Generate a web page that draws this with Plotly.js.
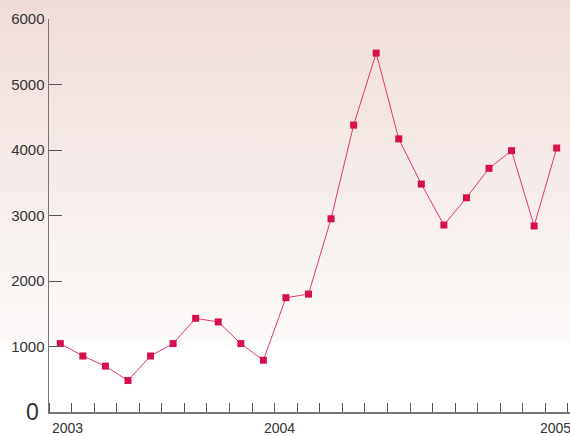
<!DOCTYPE html>
<html>
<head>
<meta charset="utf-8">
<script src="https://cdn.plot.ly/plotly-3.0.1.min.js"></script>
<style>
html,body{margin:0;padding:0;overflow:hidden;}
body{width:570px;height:436px;background:linear-gradient(to bottom,#efdcd9 0px,#f5ebe8 170px,#f9f4f2 260px,#fcfaf9 341px,#ffffff 343px,#ffffff 436px);}
#chart{width:570px;height:436px;}
</style>
</head>
<body>
<div id="chart"></div>
<script>
// Monthly values, Jan 2003 .. Nov 2004
const months = [0,1,2,3,4,5,6,7,8,9,10,11,12,13,14,15,16,17,18,19,20,21,22];
const values = [1045,855,700,480,855,1045,1430,1375,1045,790,1745,1800,2950,4380,5480,4170,3480,2855,3270,3720,3990,2840,4030];
const yearLabels = ['2003','2004','2005'];
const yearLabelPos = [0.34,9.7,22.0];
const yTicks = [1000,2000,3000,4000,5000,6000];

const trace = {
  x: months, y: values, type: 'scatter', mode: 'lines+markers',
  line: {color: '#e23a68', width: 1},
  marker: {symbol: 'square', size: 7, color: '#d7104a'},
  hoverinfo: 'none'
};

const fontFam = 'Liberation Sans, Arial, sans-serif';
const annotations = yearLabels.map((t, i) => ({
  xref: 'x', yref: 'paper', x: yearLabelPos[i], y: -0.040,
  xanchor: i === 2 ? 'right' : 'center', xshift: i === 2 ? 16 : 0,
  yanchor: 'middle', text: t, showarrow: false,
  font: {size: 14, color: '#333', family: fontFam}
}));
annotations.push({
  xref: 'paper', yref: 'y', x: 0, y: 0, xanchor: 'right', yanchor: 'middle',
  xshift: -8, text: '0', showarrow: false,
  font: {size: 23, color: '#333', family: fontFam}
});

const layout = {
  width: 570, height: 436,
  margin: {l: 49, r: 0, t: 19, b: 24},
  paper_bgcolor: 'rgba(0,0,0,0)',
  plot_bgcolor: 'rgba(0,0,0,0)',
  showlegend: false,
  font: {family: fontFam, color: '#333'},
  xaxis: {
    range: [-0.5, 22.59],
    showgrid: false, zeroline: false,
    showline: true, linecolor: '#7a7474', linewidth: 1.5,
    tickvals: yearLabelPos, ticktext: ['', '', ''],
    ticks: '', ticklen: 0,
    minor: {tick0: -0.5, dtick: 1, ticks: 'inside', ticklen: 9, tickcolor: '#555', tickwidth: 1, showgrid: false}
  },
  yaxis: {
    range: [0, 6000],
    showgrid: false, zeroline: false,
    showline: true, linecolor: '#7a7474', linewidth: 1.5,
    tickvals: yTicks, ticktext: yTicks.map(String),
    ticks: 'inside', ticklen: 13, tickcolor: '#555', tickwidth: 1,
    tickfont: {size: 15, color: '#333'}
  },
  annotations: annotations
};

Plotly.newPlot('chart', [trace], layout, {displayModeBar: false, staticPlot: true});
</script>
</body>
</html>
